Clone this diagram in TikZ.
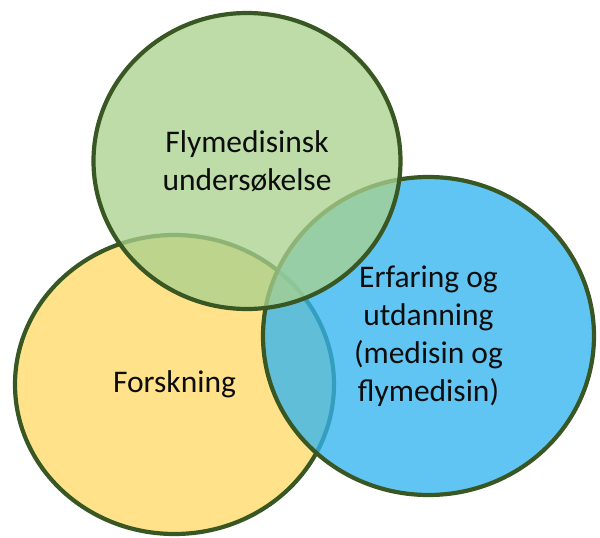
\documentclass[tikz,border=0pt]{standalone}
\usepackage{fontspec}
\setmainfont{Carlito}
\usetikzlibrary{shapes.geometric}
\definecolor{rim}{RGB}{56,87,35}
\definecolor{leaf}{RGB}{169,209,142}
\definecolor{sun}{RGB}{255,217,102}
\definecolor{sky}{RGB}{50,180,240}
\definecolor{ink}{RGB}{13,13,13}
\tikzset{
  venn/.style={ellipse, draw=rim, line width=4.2pt, inner sep=0pt,
    fill opacity=0.77, draw opacity=1, text opacity=1, text=ink,
    align=center, font=\fontsize{31.5}{38}\selectfont}
}
\begin{document}
\begin{tikzpicture}[x=1pt,y=-1pt]
\useasboundingbox (0,0) rectangle (600,538);
\node[venn, fill=sun, minimum width=319pt, minimum height=299pt] (forsk) at (174.5,384.5) {Forskning};
\node[venn, fill=sky, minimum width=331pt, minimum height=318pt] (erfar) at (428.5,336) {Erfaring og\\utdanning\\(medisin og\\flymedisin)};
\node[venn, fill=leaf, minimum width=307pt, minimum height=296pt] (under) at (247,161) {Flymedisinsk\\undersøkelse};
\end{tikzpicture}
\end{document}
